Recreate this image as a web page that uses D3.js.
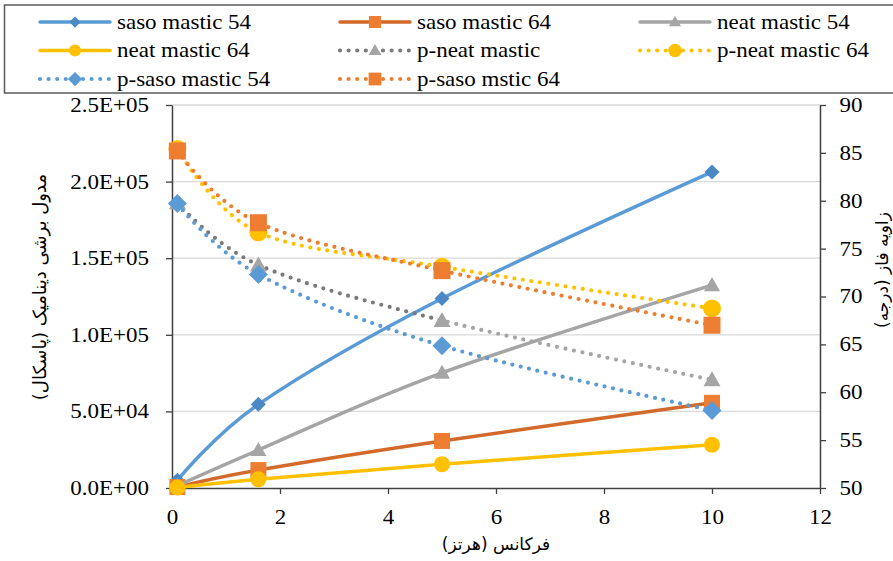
<!DOCTYPE html>
<html>
<head>
<meta charset="utf-8">
<script src="https://cdn.jsdelivr.net/npm/d3@7.9.0/dist/d3.min.js"></script>
<style>
  body { margin: 0; background: #fff; }
  svg { display: block; }
</style>
</head>
<body>
<svg width="893" height="561"></svg>
<script>
// frequency (Hz)
const freq = [0.1, 1.6, 5, 10];

// dynamic shear modulus (Pa) - left axis
const sasoMastic54 = [5000, 54600, 123700, 206300];
const sasoMastic64 = [600, 11700, 30700, 55600];
const neatMastic54 = [1500, 24800, 75200, 132400];
const neatMastic64 = [300, 5700, 15500, 28200];

// phase angle (deg) - right axis
const pNeatMastic = [79.8, 73.3, 67.5, 61.3];
const pNeatMastic64 = [85.4, 76.7, 73.1, 68.75];
const pSasoMastic54 = [79.7, 72.3, 64.85, 58.1];
const pSasoMastic64 = [85.2, 77.7, 72.7, 67.0];

const leftTicks = [0, 50000, 100000, 150000, 200000, 250000];
const rightTicks = [50, 55, 60, 65, 70, 75, 80, 85, 90];
const xTicks = [0, 2, 4, 6, 8, 10, 12];

const series = [
  { name: 'saso mastic 54', values: sasoMastic54, axis: 'L', line: '#5B9BD5', mark: '#4A89C4', shape: 'diamond', size: 7.5, dotted: false },
  { name: 'saso mastic 64', values: sasoMastic64, axis: 'L', line: '#D26A2B', mark: '#ED7D31', shape: 'square', size: 16, dotted: false },
  { name: 'neat mastic 54', values: neatMastic54, axis: 'L', line: '#A5A5A5', mark: '#A5A5A5', shape: 'triangle', size: 16, dotted: false },
  { name: 'neat mastic 64', values: neatMastic64, axis: 'L', line: '#FFC000', mark: '#FFC000', shape: 'circle', size: 8, dotted: false },
  { name: 'p-neat mastic', values: pNeatMastic, axis: 'R', line: 'url(#grayGrad)', mark: '#A5A5A5', shape: 'triangle', size: 17, dotted: true },
  { name: 'p-neat mastic 64', values: pNeatMastic64, axis: 'R', line: '#FFC000', mark: '#FFC000', shape: 'circle', size: 9, dotted: true },
  { name: 'p-saso mastic 54', values: pSasoMastic54, axis: 'R', line: '#5B9BD5', mark: '#5B9BD5', shape: 'diamond', size: 9.5, dotted: true },
  { name: 'p-saso mstic 64', values: pSasoMastic64, axis: 'R', line: '#ED7D31', mark: '#ED7D31', shape: 'square', size: 17, dotted: true }
];

const svg = d3.select('svg');
const serif = '"Liberation Serif", "DejaVu Serif", serif';
const faFont = '"DejaVu Sans", "Noto Sans", sans-serif';
const fontScale = 'scale(1.15,1)';

const x = d3.scaleLinear().domain([0, 12]).range([172, 820]);
const yL = d3.scaleLinear().domain([0, 250000]).range([488, 105]);
const yR = d3.scaleLinear().domain([50, 90]).range([488, 105]);

function fmtE(d) {
  let [m, e] = d.toExponential(1).split('e');
  return m + 'E' + e[0] + e.slice(1).padStart(2, '0');
}

function markerPath(shape, s) {
  if (shape === 'diamond') return `M0,${-s}L${s},0L0,${s}L${-s},0Z`;
  if (shape === 'square') return `M${-s / 2},${-s / 2}h${s}v${s}h${-s}Z`;
  if (shape === 'triangle') {
    let h = s * 0.88;
    return `M0,${-h / 2 - 1}L${s / 2},${h / 2 - 1}L${-s / 2},${h / 2 - 1}Z`;
  }
  return d3.arc()({ innerRadius: 0, outerRadius: s, startAngle: 0, endAngle: 2 * Math.PI });
}

// p-neat mastic: darker up to 5 Hz, lighter after
let defs = svg.append('defs');
let grad = defs.append('linearGradient')
  .attr('id', 'grayGrad')
  .attr('gradientUnits', 'userSpaceOnUse')
  .attr('x1', x(0)).attr('x2', x(12)).attr('y1', 0).attr('y2', 0);
let cut = (x(5) - x(0)) / (x(12) - x(0));
grad.append('stop').attr('offset', 0).attr('stop-color', '#7A7A7A');
grad.append('stop').attr('offset', cut).attr('stop-color', '#7A7A7A');
grad.append('stop').attr('offset', cut).attr('stop-color', '#A5A5A5');
grad.append('stop').attr('offset', 1).attr('stop-color', '#A5A5A5');

// gridlines
svg.append('g')
  .selectAll('line')
  .data(leftTicks.slice(1))
  .join('line')
  .attr('x1', x(0)).attr('x2', x(12))
  .attr('y1', (d) => yL(d)).attr('y2', (d) => yL(d))
  .attr('stroke', '#D9D9D9')
  .attr('stroke-width', 1.3);

// axes
let leftAxis = svg.append('g')
  .attr('transform', `translate(${x(0)},0)`)
  .call(d3.axisLeft(yL).tickValues(leftTicks).tickFormat(fmtE).tickSize(6).tickPadding(14).tickSizeOuter(0));

let rightAxis = svg.append('g')
  .attr('transform', `translate(${x(12)},0)`)
  .call(d3.axisRight(yR).tickValues(rightTicks).tickSize(6).tickPadding(11).tickSizeOuter(0));

let bottomAxis = svg.append('g')
  .attr('transform', `translate(0,${yL(0)})`)
  .call(d3.axisBottom(x).tickValues(xTicks).tickSize(6).tickPadding(16).tickSizeOuter(0));

[leftAxis, rightAxis, bottomAxis].forEach((g) => {
  g.attr('font-family', serif).attr('font-size', 20);
  g.selectAll('path.domain').attr('stroke', '#404040').attr('stroke-width', 1.5);
  g.selectAll('.tick line').attr('stroke', '#404040').attr('stroke-width', 1.3);
  g.selectAll('.tick text')
    .attr('fill', '#000')
    .attr('transform', fontScale);
});

// axis titles
svg.append('text')
  .attr('font-family', faFont)
  .attr('font-size', 18)
  .attr('text-anchor', 'middle')
  .attr('transform', 'translate(46,287) rotate(-90)')
  .text('مدول برشی دینامیک (پاسکال)');

svg.append('text')
  .attr('font-family', faFont)
  .attr('font-size', 17)
  .attr('text-anchor', 'middle')
  .attr('transform', 'translate(888,270) rotate(-90)')
  .text('زاویه فاز (درجه)');

svg.append('text')
  .attr('font-family', faFont)
  .attr('font-size', 17)
  .attr('text-anchor', 'middle')
  .attr('x', 496)
  .attr('y', 550)
  .text('فرکانس (هرتز)');

// series lines and markers
let curve = d3.curveCatmullRom.alpha(0);

series.forEach((s) => {
  let yScale = s.axis === 'L' ? yL : yR;
  let line = d3.line()
    .x((d, i) => x(freq[i]))
    .y((d) => yScale(d))
    .curve(curve);

  let path = svg.append('path')
    .attr('d', line(s.values))
    .attr('fill', 'none')
    .attr('stroke', s.line)
    .attr('stroke-linecap', 'round');

  if (s.dotted) {
    path.attr('stroke-width', 4.2).attr('stroke-dasharray', '0 8.6');
  } else {
    path.attr('stroke-width', 3.5);
  }

  svg.append('g')
    .selectAll('path')
    .data(s.values)
    .join('path')
    .attr('transform', (d, i) => `translate(${x(freq[i])},${yScale(d)})`)
    .attr('d', markerPath(s.shape, s.size))
    .attr('fill', s.mark);
});

// legend
let legend = svg.append('g');
legend.append('rect')
  .attr('x', 4.5).attr('y', 5)
  .attr('width', 900).attr('height', 88)
  .attr('fill', '#fff')
  .attr('stroke', '#595959')
  .attr('stroke-width', 1.5);

let colX = [40, 340, 640];
let rowY = [22, 50.5, 79];

series.forEach((s, idx) => {
  let cx = colX[idx % 3];
  let cy = rowY[Math.floor(idx / 3)];
  let g = legend.append('g').attr('transform', `translate(${cx},${cy})`);
  let ln = g.append('line')
    .attr('x1', 0).attr('x2', 70)
    .attr('stroke', s.name === 'p-neat mastic' ? '#7A7A7A' : s.line)
    .attr('stroke-linecap', 'round');
  if (s.dotted) {
    ln.attr('stroke-width', 4.2).attr('stroke-dasharray', '0 8.6');
  } else {
    ln.attr('stroke-width', 3.5);
  }
  g.append('path')
    .attr('transform', 'translate(35,0)')
    .attr('d', markerPath(s.shape, s.size * 0.75))
    .attr('fill', s.mark);
  g.append('text')
    .attr('font-family', serif)
    .attr('font-size', 20)
    .attr('transform', `translate(77,6.5) ${fontScale}`)
    .text(s.name);
});
</script>
</body>
</html>
